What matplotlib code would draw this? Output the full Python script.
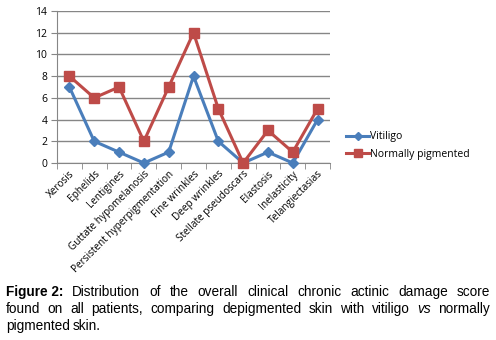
import numpy as np
import matplotlib
matplotlib.use("Agg")
import matplotlib.pyplot as plt

categories = ["Xerosis", "Ephelids", "Lentigines", "Guttate hypomelanosis",
              "Persistent hyperpigmentation", "Fine wrinkles", "Deep wrinkles",
              "Stellate pseudoscars", "Elastosis", "Inelasticity", "Telangiectasias"]
vitiligo = [7, 2, 1, 0, 1, 8, 2, 0, 1, 0, 4]
normal = [8, 6, 7, 2, 7, 12, 5, 0, 3, 1, 5]
yticks = [0, 2, 4, 6, 8, 10, 12, 14]

caption_bold = "Figure 2:"
caption_lines = [
    "Distribution of the overall clinical chronic actinic damage score",
    "found on all patients, comparing depigmented skin with vitiligo vs normally",
    "pigmented skin.",
]

W, H = 496, 340
fig = plt.figure(figsize=(W / 100, H / 100), dpi=100)
ax = fig.add_axes([57 / W, (H - 163) / H, 273 / W, 152 / H])

x = np.arange(len(categories))
blue = "#4a7ebb"
red = "#be4b48"
ax.plot(x, vitiligo, color=blue, lw=2.2, marker="D", ms=5, label="Vitiligo", clip_on=False, zorder=3)
ax.plot(x, normal, color=red, lw=2.2, marker="s", ms=7, label="Normally pigmented", clip_on=False, zorder=3)

ax.set_xlim(-0.5, len(categories) - 0.5)
ax.set_ylim(0, 14)
ax.set_yticks(yticks)
ax.yaxis.grid(True, color="#868686", lw=1)
ax.set_axisbelow(True)
for s in ["top", "right"]:
    ax.spines[s].set_visible(False)
for s in ["left", "bottom"]:
    ax.spines[s].set_color("#868686")
ax.set_xticks(x)
ax.set_xticks(np.arange(-0.5, len(categories)), minor=True)
ax.tick_params(axis="x", which="major", length=0, pad=4)
ax.tick_params(axis="x", which="minor", length=4, color="#868686", direction="out")
ax.tick_params(axis="y", length=4, color="#868686", labelsize=7.5, pad=3)
ax.set_xticklabels(categories, rotation=45, ha="right", rotation_mode="anchor",
                   fontsize=7.2, family="Open Sans")
for t in ax.get_yticklabels():
    t.set_family("Open Sans")

leg = fig.legend(loc="upper left", bbox_to_anchor=(337 / W, 1 - 122 / H), frameon=False,
                 prop={"family": "Open Sans", "size": 7.5}, handlelength=2.2,
                 handletextpad=0.1, labelspacing=0.6, markerscale=0.8)

# justified caption
fig.canvas.draw()
r = fig.canvas.get_renderer()
left, right = 6, 490
fs = 9.8
ys = [296, 313, 330]
for i, line in enumerate(caption_lines):
    words = line.split(" ")
    items = []
    if i == 0:
        items.append((caption_bold, "bold", "normal"))
    for w in words:
        items.append((w, "normal", "italic" if w == "vs" else "normal"))
    texts = []
    for w, wt, st in items:
        t = fig.text(0, 1 - ys[i] / H, w, fontsize=fs, family="Liberation Sans",
                     weight=wt, style=st, va="baseline")
        texts.append(t)
    widths = [t.get_window_extent(r).width for t in texts]
    if i < len(caption_lines) - 1:
        gap = (right - left - sum(widths)) / (len(texts) - 1)
    else:
        gap = fs * 0.28
    pos = left
    for t, w in zip(texts, widths):
        t.set_x(pos / W)
        pos += w + gap

fig.savefig("out.png", dpi=100)
